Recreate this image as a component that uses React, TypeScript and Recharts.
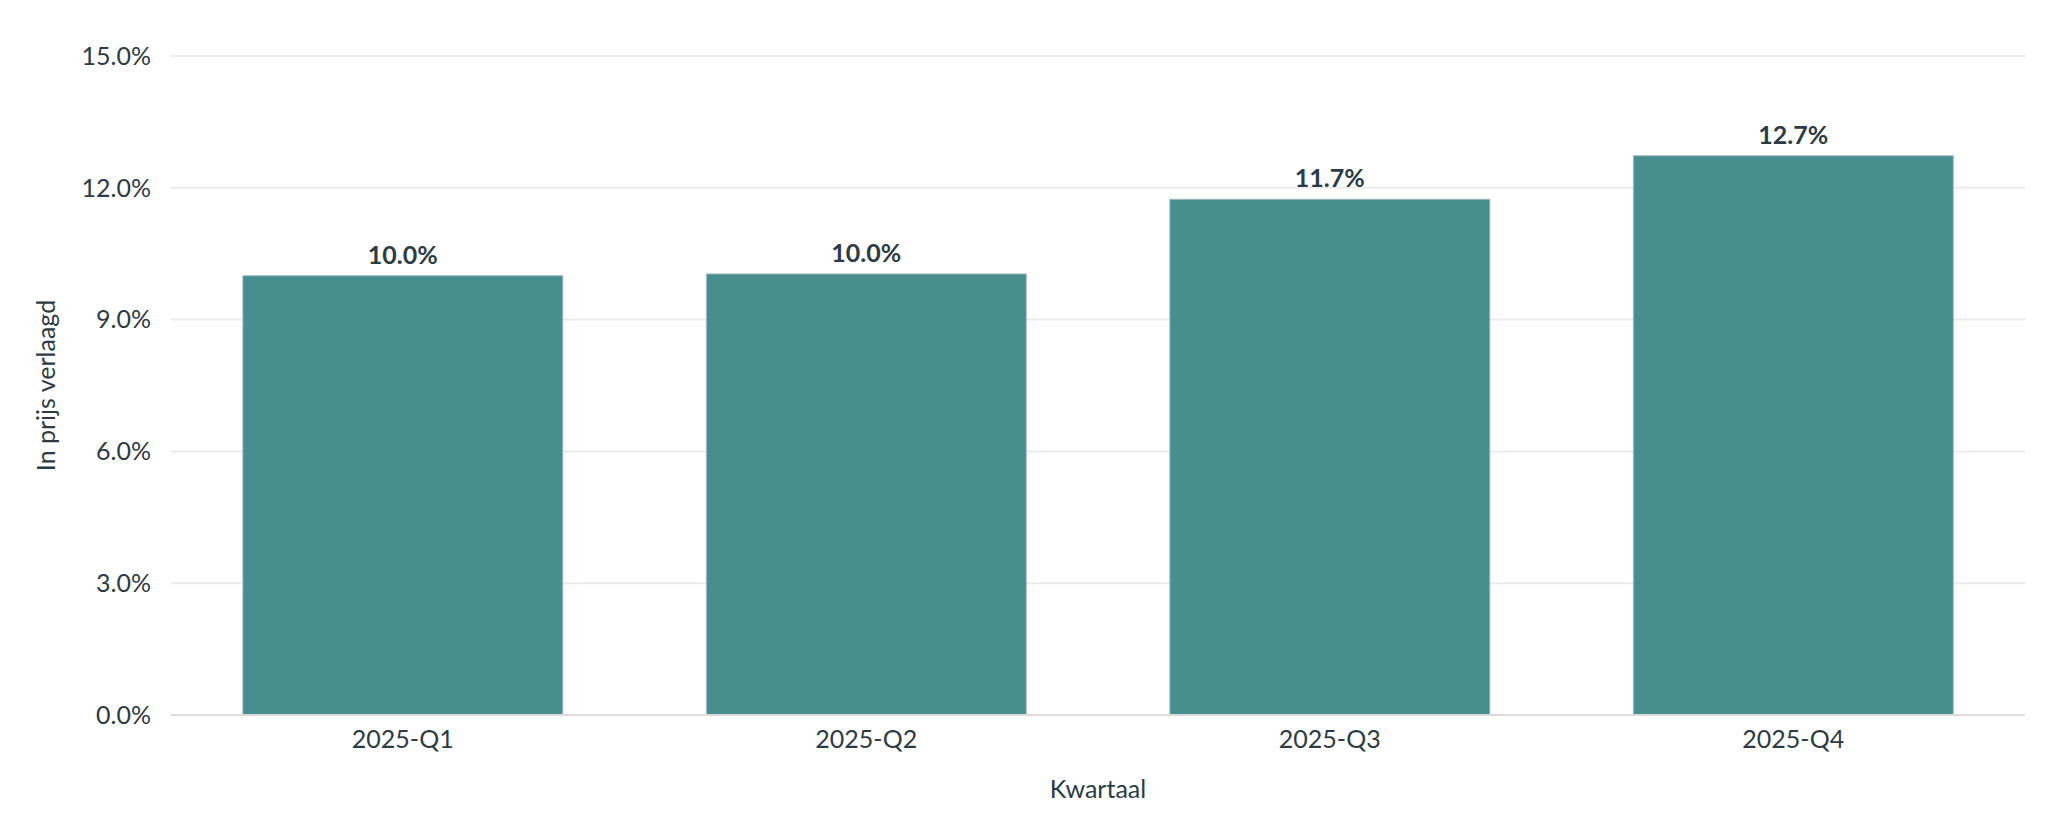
import React from 'react';
import { BarChart, Bar, XAxis, YAxis, CartesianGrid, LabelList } from 'recharts';

const categories = ['2025-Q1', '2025-Q2', '2025-Q3', '2025-Q4'];
const values = [10.0, 10.04, 11.74, 12.73];
const yTicks = [0, 3, 6, 9, 12, 15];

const data = categories.map((c, i) => ({ kwartaal: c, value: values[i] }));

const TEXT = '#2d3b45';
const FONT = 'Lato, "Noto Sans", sans-serif';
const fmt = (v: number) => `${v.toFixed(1)}%`;

export default function App() {
  return (
    <div style={{ width: 2046, height: 800, fontFamily: FONT }}>
      <BarChart
        width={2046}
        height={800}
        data={data}
        margin={{ top: 48, right: 29, bottom: 0, left: 0 }}
        barCategoryGap="15.5%"
      >
        <CartesianGrid vertical={false} stroke="#ececec" strokeWidth={2} />
        <XAxis
          dataKey="kwartaal"
          height={93}
          tickLine={false}
          tickSize={0}
          tickMargin={15}
          axisLine={{ stroke: '#dcdcdc', strokeWidth: 2 }}
          tick={{ fill: TEXT, fontSize: 25, fontFamily: FONT }}
          label={{ value: 'Kwartaal', position: 'insideBottom', offset: 10, fill: TEXT, fontSize: 25, fontFamily: FONT }}
        />
        <YAxis
          width={163}
          domain={[0, 15]}
          ticks={yTicks}
          tickFormatter={fmt}
          tickLine={false}
          axisLine={false}
          tickSize={0}
          tickMargin={20}
          tick={{ fill: TEXT, fontSize: 25, fontFamily: FONT }}
          label={{
            value: 'In prijs verlaagd',
            angle: -90,
            position: 'insideLeft',
            offset: 38,
            fill: TEXT,
            fontSize: 25,
            fontFamily: FONT,
            style: { textAnchor: 'middle' },
          }}
        />
        <Bar dataKey="value" fill="#478f8e" stroke="#a9bcc6" strokeWidth={1} isAnimationActive={false}>
          <LabelList
            dataKey="value"
            position="top"
            offset={12}
            formatter={(v: any) => fmt(Number(v))}
            style={{ fill: TEXT, fontSize: 25, fontWeight: 700, fontFamily: FONT }}
          />
        </Bar>
      </BarChart>
    </div>
  );
}
